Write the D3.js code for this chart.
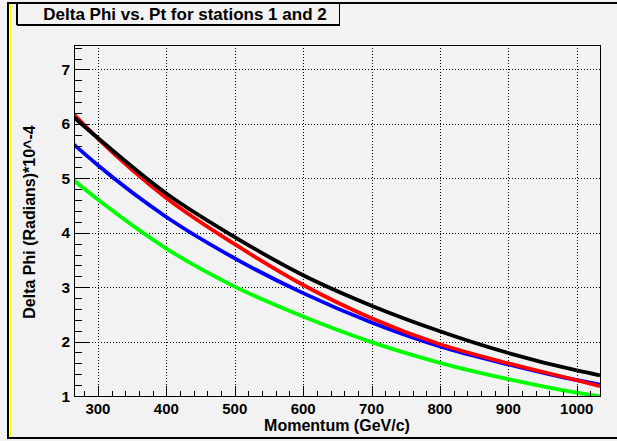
<!DOCTYPE html>
<html>
<head>
<meta charset="utf-8">
<script src="https://cdn.jsdelivr.net/npm/d3@7"></script>
<style>
  body { margin: 0; background: #f2f2f2; }
  text { font-family: "Liberation Sans", Arial, sans-serif; font-weight: bold; fill: #000; }
</style>
</head>
<body>
<svg id="chart" width="617" height="441"></svg>
<script>
// momentum points where the curves were read
const momentum = [265, 300, 400, 500, 600, 700, 800, 900, 1000, 1034];
// delta phi (x 10^-4 rad) per station curve
const blackVals = [6.12, 5.74, 4.72, 3.92, 3.22, 2.66, 2.19, 1.79, 1.47, 1.38];
const redVals   = [6.17, 5.73, 4.64, 3.79, 3.04, 2.43, 1.95, 1.60, 1.29, 1.18];
const blueVals  = [5.62, 5.24, 4.29, 3.53, 2.89, 2.35, 1.91, 1.58, 1.29, 1.21];
const greenVals = [4.96, 4.61, 3.71, 3.01, 2.46, 1.99, 1.61, 1.31, 1.06, 0.99];
const xTicks = [300, 400, 500, 600, 700, 800, 900, 1000];
const yTicks = [1, 2, 3, 4, 5, 6, 7];

const series = [
  { color: "#00ff00", vals: greenVals },
  { color: "#0000ff", vals: blueVals },
  { color: "#ff0000", vals: redVals },
  { color: "#000000", vals: blackVals }
];

const svg = d3.select("#chart");
const pLeft = 74, pTop = 45, pRight = 600, pBottom = 396;

const x = d3.scaleLinear().domain([265, 1034]).range([pLeft, pRight]);
const y = d3.scaleLinear().domain([1, 7.45]).range([pBottom, pTop]);

// canvas border
svg.append("rect").attr("x", 8).attr("y", 3).attr("width", 640).attr("height", 435)
  .attr("fill", "#f2f2f2").attr("stroke", "#000").attr("stroke-width", 2);
svg.append("line").attr("x1", 10.5).attr("x2", 10.5).attr("y1", 4).attr("y2", 437)
  .attr("stroke", "#ffff00").attr("stroke-width", 1);

// grid
const grid = svg.append("g").attr("stroke", "#000").attr("stroke-width", 1)
  .attr("stroke-dasharray", "1,2");
grid.selectAll(".gx").data(xTicks).enter().append("line")
  .attr("x1", d => Math.round(x(d)) + 0.5).attr("x2", d => Math.round(x(d)) + 0.5)
  .attr("y1", pTop).attr("y2", pBottom);
grid.selectAll(".gy").data(yTicks).enter().append("line")
  .attr("x1", pLeft).attr("x2", pRight)
  .attr("y1", d => Math.round(y(d)) + 0.5).attr("y2", d => Math.round(y(d)) + 0.5);

// curves
const line = d3.line()
  .x((d, i) => x(momentum[i]))
  .y(d => y(d))
  .curve(d3.curveMonotoneX);

const clip = svg.append("clipPath").attr("id", "plotclip");
clip.append("rect").attr("x", pLeft).attr("y", pTop).attr("width", pRight - pLeft).attr("height", pBottom - pTop + 1);

svg.append("g").attr("clip-path", "url(#plotclip)")
  .selectAll("path").data(series).enter().append("path")
  .attr("d", d => line(d.vals))
  .attr("fill", "none")
  .attr("stroke", d => d.color)
  .attr("stroke-width", 3.8);

// axes, ticks inward
const xg = svg.append("g").attr("transform", `translate(0,${pBottom})`);
xg.selectAll("line").data(d3.range(280, 1034, 20)).enter().append("line")
  .attr("x1", d => Math.round(x(d)) + 0.5).attr("x2", d => Math.round(x(d)) + 0.5)
  .attr("y1", 0).attr("y2", d => d % 100 === 0 ? -10 : -5)
  .attr("stroke", "#000");
xg.selectAll("text").data(xTicks).enter().append("text")
  .attr("x", d => x(d)).attr("y", 18)
  .attr("text-anchor", "middle").attr("font-size", 15)
  .text(d => d);

const yg = svg.append("g").attr("transform", `translate(${pLeft},0)`);
yg.selectAll("line").data(d3.range(1, 7.41, 0.2)).enter().append("line")
  .attr("x1", 0)
  .attr("x2", d => Math.abs(d - Math.round(d)) < 0.01 ? 16 : 8)
  .attr("y1", d => Math.round(y(d)) + 0.5).attr("y2", d => Math.round(y(d)) + 0.5)
  .attr("stroke", "#000");
yg.selectAll("text").data(yTicks).enter().append("text")
  .attr("x", -4).attr("y", d => y(d) + 5.5)
  .attr("text-anchor", "end").attr("font-size", 15.5)
  .text(d => d);

// frame
svg.append("rect").attr("x", pLeft + 0.5).attr("y", pTop + 0.5)
  .attr("width", pRight - pLeft).attr("height", pBottom - pTop)
  .attr("fill", "none").attr("stroke", "#000").attr("stroke-width", 1);

// axis titles
svg.append("text").attr("x", 337).attr("y", 431)
  .attr("text-anchor", "middle").attr("font-size", 16)
  .text("Momentum (GeV/c)");
svg.append("text")
  .attr("transform", "translate(35,222) rotate(-90)")
  .attr("text-anchor", "middle").attr("font-size", 16)
  .text("Delta Phi (Radians)*10^-4");

// title box
svg.append("rect").attr("x", 16.5).attr("y", 3.5).attr("width", 323).attr("height", 21)
  .attr("fill", "#f2f2f2").attr("stroke", "#000").attr("stroke-width", 1);
svg.append("line").attr("x1", 17).attr("x2", 340).attr("y1", 25).attr("y2", 25)
  .attr("stroke", "#000").attr("stroke-width", 2);
svg.append("line").attr("x1", 17).attr("x2", 17).attr("y1", 3).attr("y2", 25)
  .attr("stroke", "#000").attr("stroke-width", 2);
svg.append("text").attr("x", 185).attr("y", 19.5)
  .attr("text-anchor", "middle").attr("font-size", 17)
  .text("Delta Phi vs. Pt for stations 1 and 2");
</script>
</body>
</html>
